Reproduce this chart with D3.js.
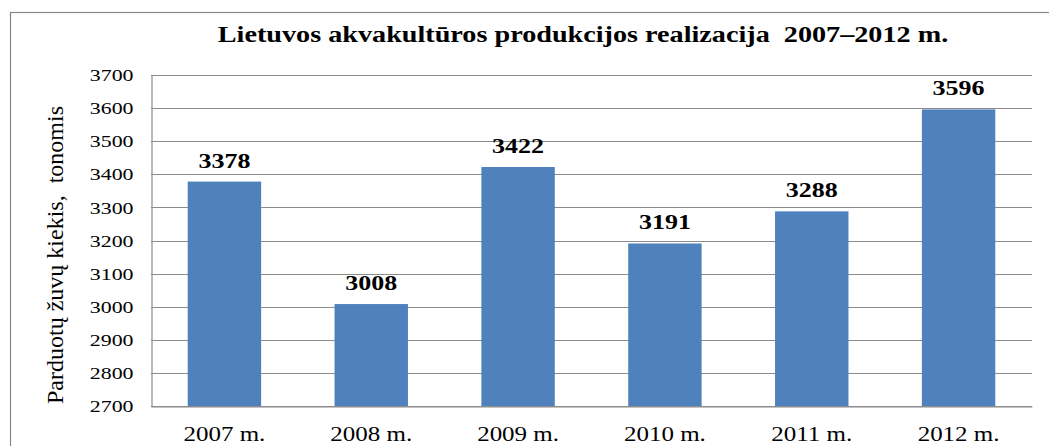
<!DOCTYPE html>
<html><head><meta charset="utf-8">
<script src="https://cdnjs.cloudflare.com/ajax/libs/d3/7.8.5/d3.min.js"></script>
<style>body{margin:0;background:#fff;}svg{display:block;}text{white-space:pre;}</style>
</head><body>
<script>
const categories = ["2007 m.","2008 m.","2009 m.","2010 m.","2011 m.","2012 m."];
const values = [3378,3008,3422,3191,3288,3596];
const yTicks = [2700,2800,2900,3000,3100,3200,3300,3400,3500,3600,3700];
const title = "Lietuvos akvakultūros produkcijos realizacija  2007–2012 m.";
const yTitle = "Parduotų žuvų kiekis,  tonomis";

const W=1049,H=446;
const FONT="Liberation Serif";
const SX=1.25; // horizontal stretch seen in the reference text
const svg=d3.select("body").append("svg").attr("width",W).attr("height",H);
svg.append("rect").attr("x",10.5).attr("y",12.5).attr("width",1060).attr("height",460)
  .attr("fill","#fff").attr("stroke","#888").attr("stroke-width",1.2);

const m={l:151,r:1032,t:75,b:406};
const x=d3.scaleBand().domain(categories).range([m.l,m.r]).paddingInner(0.5).paddingOuter(0.25);
const y=d3.scaleLinear().domain([2700,3700]).range([m.b,m.t]);

// gridlines
svg.append("g").selectAll("line").data(yTicks).join("line")
  .attr("x1",m.l).attr("x2",m.r).attr("y1",d=>Math.round(y(d))+0.5).attr("y2",d=>Math.round(y(d))+0.5)
  .attr("stroke","#8c8c8c").attr("stroke-width",1.2);

// y axis
const yPad=18;
const ya=svg.append("g").attr("transform",`translate(${m.l+0.5},0)`)
  .call(d3.axisLeft(y).tickValues(yTicks).tickFormat(d3.format("d")).tickSize(0).tickPadding(yPad));
ya.select(".domain").attr("stroke","#8c8c8c").attr("stroke-width",1.2);
ya.selectAll("text").attr("font-family",FONT).attr("font-size",17.5).attr("fill","#000")
  .attr("x",-yPad/SX).attr("transform",`scale(${SX},1)`);

// bars
svg.append("g").selectAll("rect").data(values).join("rect")
  .attr("x",(d,i)=>x(categories[i])).attr("width",x.bandwidth())
  .attr("y",d=>y(d)).attr("height",d=>m.b-y(d)).attr("fill","#4F81BD");

// value labels
svg.append("g").selectAll("text").data(values).join("text")
  .attr("transform",(d,i)=>`translate(${x(categories[i])+x.bandwidth()/2},${y(d)-14}) scale(1.3,1)`)
  .attr("text-anchor","middle").attr("font-family",FONT).attr("font-weight","bold")
  .attr("font-size",20).text(d=>d);

// x axis
const xa=svg.append("g").attr("transform",`translate(0,${m.b+0.5})`)
  .call(d3.axisBottom(x).tickSize(0).tickPadding(20));
xa.select(".domain").attr("stroke","#8c8c8c").attr("stroke-width",1.2);
xa.selectAll("text").attr("font-family",FONT).attr("font-size",20).attr("fill","#000")
  .attr("transform",`scale(${SX},1)`);

// title
svg.append("text").attr("transform","translate(583,42) scale(1.2,1)").attr("text-anchor","middle")
  .attr("font-family",FONT).attr("font-weight","bold").attr("font-size",23.5).text(title);

// y title
svg.append("text").attr("transform","translate(63,255) rotate(-90)").attr("text-anchor","middle")
  .attr("font-family",FONT).attr("font-size",24).attr("fill","#000").text(yTitle);
</script>
</body></html>
